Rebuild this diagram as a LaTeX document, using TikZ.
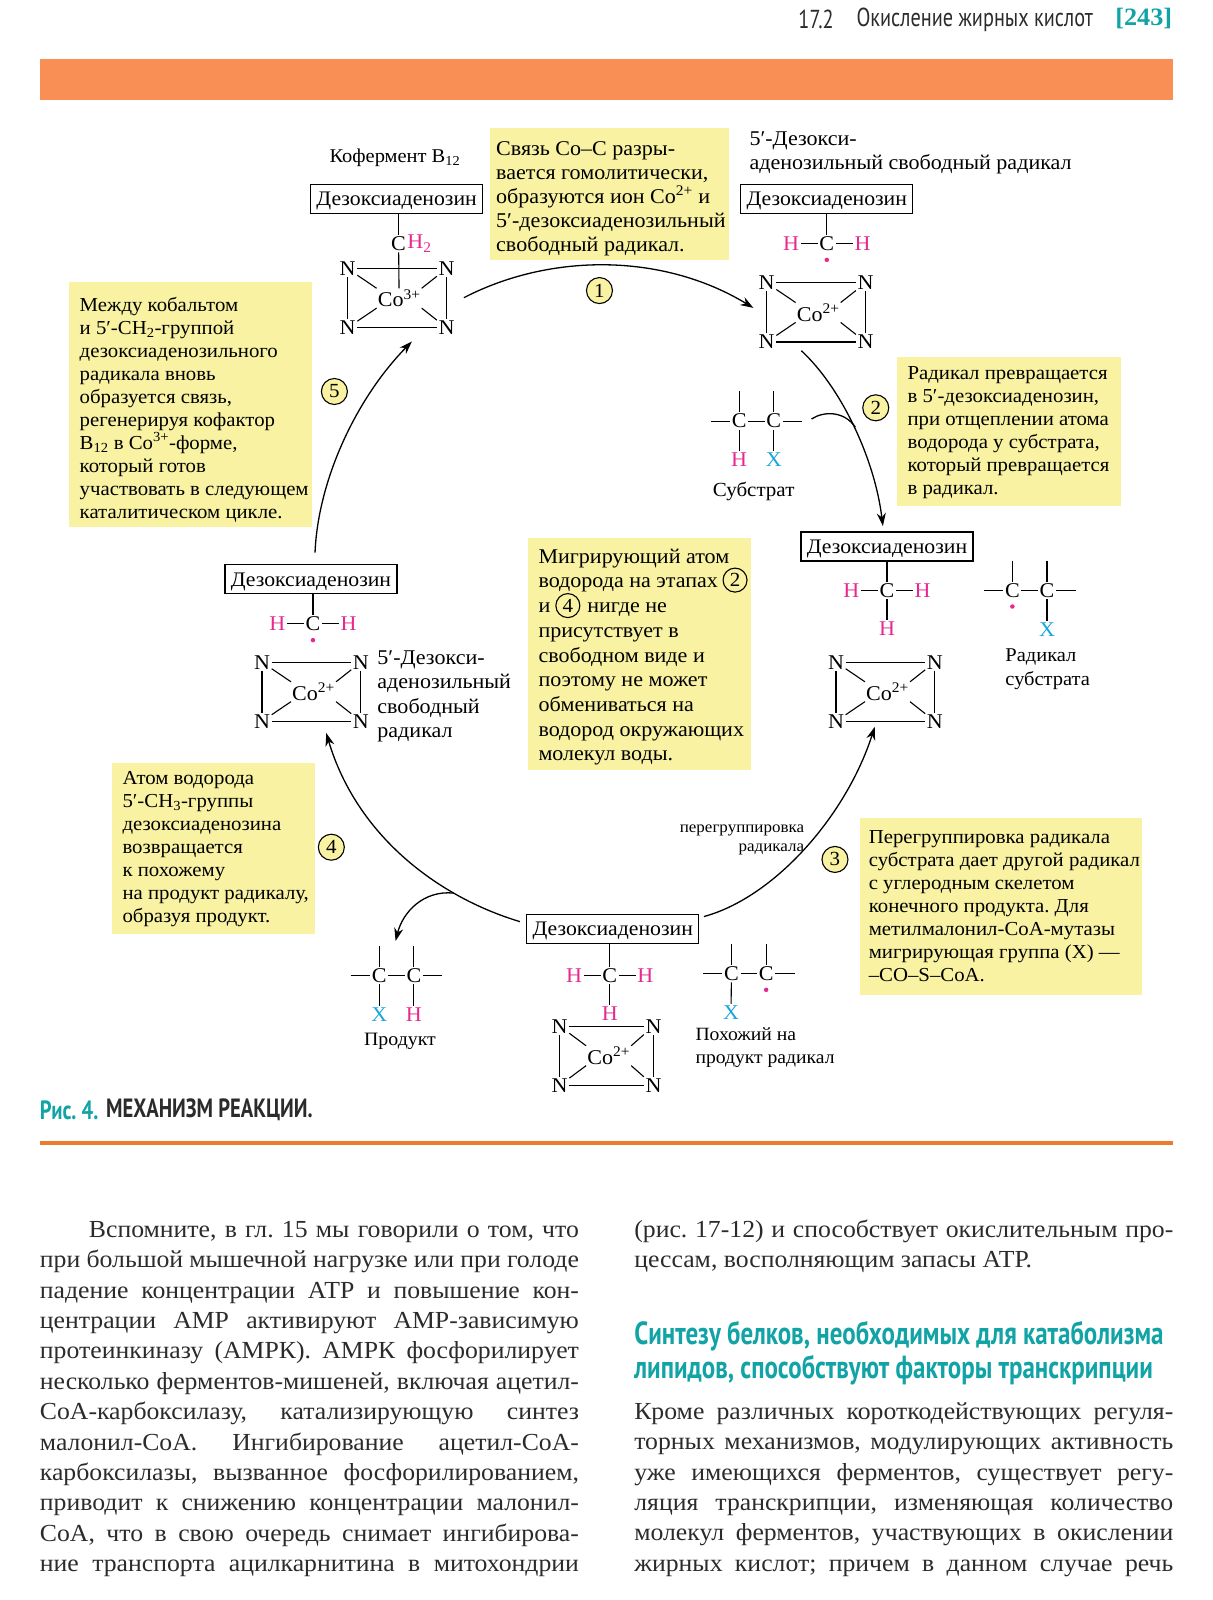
\documentclass[tikz,border=0pt]{standalone}
\usepackage{fontspec}
\usepackage{xcolor}
\setmainfont[FakeStretch=1.05]{Liberation Serif}
\newfontfamily\headfont[FakeStretch=0.78]{PT Sans}
\usetikzlibrary{positioning, arrows.meta}
\definecolor{noteyellow}{HTML}{F8F2A2}
\definecolor{atompink}{HTML}{E6298E}
\definecolor{atomblue}{HTML}{1BA6DC}
\definecolor{pageteal}{HTML}{12A3A6}
\definecolor{bandorange}{HTML}{F98F55}
\definecolor{ruleorange}{HTML}{EE7A2D}
\definecolor{inkgray}{HTML}{2B2B2B}
\frenchspacing
\tikzset{
    deoxy/.style={draw,line width=1.2pt,fill=white,minimum width=172pt,minimum height=29pt,inner sep=0pt,text height=15pt,text depth=1pt,font=\fontsize{20.7}{24}\selectfont},
    note/.style={anchor=west,align=left,inner sep=0pt,font=\fontsize{19.8}{23}\selectfont},
    notewide/.style={note,font=\fontsize{21}{24.7}\selectfont},
    stepnum/.style={circle,draw,line width=1.1pt,fill=noteyellow,minimum size=26pt,inner sep=0pt,font=\fontsize{20}{22}\selectfont},
    atom/.style={inner sep=1.5pt,font=\fontsize{21}{24}\selectfont},
    atomh/.style={atom,text=atompink},
    atomx/.style={atom,text=atomblue},
    radical/.style={circle,fill=atompink,minimum size=4.5pt,inner sep=0pt},
    bond/.style={line width=1.1pt},
    cycle/.style={line width=1.3pt,-{Stealth[length=13pt,width=9pt]}},
    branch/.style={line width=1.3pt},
    caption/.style={anchor=west,align=left,inner sep=0pt,font=\fontsize{21}{24.5}\selectfont},
    captionsmall/.style={caption,font=\fontsize{19.5}{23.5}\selectfont},
    body/.style={anchor=north west,align=justify,inner sep=0pt,text width=539pt,text=inkgray,font=\fontsize{24.5}{30.4}\selectfont},
    pics/cocore/.style 2 args={code={
        \node[inner sep=1pt,font=\fontsize{21}{24}\selectfont] (-co) at (2,0) {Co\textsuperscript{#1}};
        \node[atom] (-nw) at (-#2,-29) {N};
        \node[atom] (-ne) at (#2,-29) {N};
        \node[atom] (-sw) at (-#2,29) {N};
        \node[atom] (-se) at (#2,29) {N};
        \draw[bond] (-nw) -- (-ne) -- (-se) -- (-sw) -- (-nw);
        \draw[bond] (-nw) -- (-co.north west);
        \draw[bond] (-ne) -- (-co.north east);
        \draw[bond] (-sw) -- (-co.south west);
        \draw[bond] (-se) -- (-co.south east);
    }},
    pics/ccchain/.style={code={
        \node[atom] (-a) at (-17,0) {C};
        \node[atom] (-b) at (17,0) {C};
        \coordinate (-l) at (-45,0);
        \coordinate (-r) at (45,0);
        \coordinate (-ua) at (-17,-29);
        \coordinate (-ub) at (17,-29);
        \draw[bond] (-l) -- (-a) -- (-b) -- (-r);
        \draw[bond] (-ua) -- (-a);
        \draw[bond] (-ub) -- (-b);
    }},
}
\begin{document}
\begin{tikzpicture}[x=1.0195pt,y=-1.0195pt,node distance = 17pt]
    \useasboundingbox (0,0) rectangle (1189.8,1569.4);

    % page head
    \node[anchor=west,inner sep=0pt,text=inkgray,font=\headfont\fontsize{26}{28}\selectfont] (sect) at (783,19) {17.2};
    \node[anchor=west,inner sep=0pt,text=inkgray,font=\headfont\fontsize{26}{28}\selectfont] (title) at (840,19) {Окисление жирных кислот};
    \node[anchor=east,inner sep=0pt,text=pageteal,font=\bfseries\fontsize{25}{28}\selectfont] (page) at (1150,18) {[243]};
    \fill[bandorange] (39,58) rectangle (1150.5,98);

    % notes
    \fill[noteyellow] (481,126) rectangle (715,255);
    \fill[noteyellow] (880,350) rectangle (1100,496);
    \fill[noteyellow] (68,277) rectangle (306,517);
    \fill[noteyellow] (518,528) rectangle (737,755);
    \fill[noteyellow] (110,748) rectangle (309,916);
    \fill[noteyellow] (844,802) rectangle (1120,976);
    \node[note,font=\fontsize{21}{24}\selectfont] (note1) at (486.5,195) {Связь Co–C разры-\\вается гомолитически,\\образуются ион Co\textsuperscript{2+} и\\5′-дезоксиаденозильный\\свободный радикал.};
    \node[note] (note2) at (890,424) {Радикал превращается\\в 5′-дезоксиаденозин,\\при отщеплении атома\\водорода у субстрата,\\который превращается\\в радикал.};
    \node[note] (note5) at (78,401.5) {Между кобальтом\\и 5′-CH\textsubscript{2}-группой\\дезоксиаденозильного\\радикала вновь\\образуется связь,\\регенерируя кофактор\\B\textsubscript{12} в Co\textsuperscript{3+}-форме,\\который готов\\участвовать в следующем\\каталитическом цикле.};
    \node[notewide] (notem) at (528,644.5) {Мигрирующий атом\\водорода на этапах\\и \hspace{26pt} нигде не\\присутствует в\\свободном виде и\\поэтому не может\\обмениваться на\\водород окружающих\\молекул воды.};
    \node[note] (note4) at (120,833) {Атом водорода\\5′-CH\textsubscript{3}-группы\\дезоксиаденозина\\возвращается\\к похожему\\на продукт радикалу,\\образуя продукт.};
    \node[note] (note3) at (852,888.5) {Перегруппировка радикала\\субстрата дает другой радикал\\с углеродным скелетом\\конечного продукта. Для\\метилмалонил-CoA-мутазы\\мигрирующая группа (X) —\\–CO–S–CoA.};

    % coenzyme
    \node[deoxy] (box1) at (389,195) {Дезоксиаденозин};
    \pic (co1) at (389.5,292.5) {cocore={3+}{48.5}};
    \node[atom] (c1) [below = 21pt of box1, xshift=2pt] {C};
    \node[atomh] (h1) [right = -2pt of c1] {H\textsubscript{2}};
    \draw[bond] (box1.south -| c1) -- (c1);
    \draw[bond] (c1) -- (co1-co);
    \node[captionsmall] (lab1) at (323,155) {Кофермент B\textsubscript{12}};

    % radical
    \node[deoxy] (box2) at (811,195) {Дезоксиаденозин};
    \pic (co2) at (800.5,306.5) {cocore={2+}{48.5}};
    \node[atom] (c2) [below = 21pt of box2] {C};
    \node[atomh] (h2l) [left = of c2] {H};
    \node[atomh] (h2r) [right = of c2] {H};
    \node[radical] (d2) [below = 5pt of c2] {};
    \draw[bond] (box2) -- (c2);
    \draw[bond] (h2l) -- (c2) -- (h2r);
    \node[caption] (lab2) at (735,150) {5′-Дезокси-\\аденозильный свободный радикал};

    % substrate
    \pic (sub) at (742,413) {ccchain};
    \node[atomh] (subh) at (725,451) {H};
    \node[atomx] (subx) at (759,451) {X};
    \draw[bond] (sub-a) -- (subh);
    \draw[bond] (sub-b) -- (subx);
    \node[captionsmall,font=\fontsize{20}{23.5}\selectfont] (labsub) at (699,482) {Субстрат};

    % H taken over
    \node[deoxy] (box3) at (870,536) {Дезоксиаденозин};
    \pic (co3) at (868.5,678.5) {cocore={2+}{48.5}};
    \node[atom] (c3) [below = 20pt of box3] {C};
    \node[atomh] (h3l) [left = of c3] {H};
    \node[atomh] (h3r) [right = of c3] {H};
    \node[atomh] (h3b) [below = 21pt of c3] {H};
    \draw[bond] (box3) -- (c3);
    \draw[bond] (h3l) -- (c3) -- (h3r);
    \draw[bond] (c3) -- (h3b);
    \pic (rad) at (1010,579) {ccchain};
    \node[radical] (d3) [below = 5pt of rad-a] {};
    \node[atomx] (radx) at (1027,618) {X};
    \draw[bond] (rad-b) -- (radx);
    \node[captionsmall] (labrad) at (986,656.5) {Радикал\\субстрата};

    % rearranged
    \node[deoxy] (box5) at (601,911) {Дезоксиаденозин};
    \pic (co5) at (595,1035.5) {cocore={2+}{46}};
    \node[atom] (c5) [below = 23pt of box5, xshift=-3pt] {C};
    \node[atomh] (h5l) [left = of c5] {H};
    \node[atomh] (h5r) [right = of c5] {H};
    \node[atomh] (h5b) [below = 21pt of c5] {H};
    \draw[bond] (box5.south -| c5) -- (c5);
    \draw[bond] (h5l) -- (c5) -- (h5r);
    \draw[bond] (c5) -- (h5b);
    \pic (lik) at (734.5,955) {ccchain};
    \node[radical] (d5) [below = 5pt of lik-b] {};
    \node[atomx] (likx) at (717,993) {X};
    \draw[bond] (lik-a) -- (likx);
    \node[captionsmall,font=\fontsize{18.7}{22.5}\selectfont] (lablik) at (682,1027.5) {Похожий на\\продукт радикал};

    % product
    \pic (prod) at (389,957) {ccchain};
    \node[atomx] (prodx) at (372,995) {X};
    \node[atomh] (prodh) at (406,995) {H};
    \draw[bond] (prod-a) -- (prodx);
    \draw[bond] (prod-b) -- (prodh);
    \node[captionsmall,font=\fontsize{18.9}{23}\selectfont] (labprod) at (357,1021.5) {Продукт};

    % back to the start
    \node[deoxy] (box4) at (305,568) {Дезоксиаденозин};
    \pic (co4) at (305.5,678.5) {cocore={2+}{48.5}};
    \node[atom] (c4) [below = 21pt of box4, xshift=2pt] {C};
    \node[atomh] (h4l) [left = of c4] {H};
    \node[atomh] (h4r) [right = of c4] {H};
    \node[radical] (d4) [below = 5pt of c4] {};
    \draw[bond] (box4.south -| c4) -- (c4);
    \draw[bond] (h4l) -- (c4) -- (h4r);
    \node[caption] (lab4) at (370,683) {5′-Дезокси-\\аденозильный\\свободный\\радикал};

    \node[caption,align=right,anchor=east,font=\fontsize{16.2}{19.6}\selectfont] (lab3) at (789,824) {перегруппировка\\радикала};

    % step numbers
    \node[stepnum] (s1) at (588,285) {1};
    \node[stepnum] (s2) at (859,400) {2};
    \node[stepnum] (s3) at (819,843) {3};
    \node[stepnum] (s4) at (325,831) {4};
    \node[stepnum] (s5) at (328,384) {5};
    \node[stepnum,minimum size=24pt] (m2) at (721,569) {2};
    \node[stepnum,minimum size=24pt] (m4) at (557,594) {4};

    % cycle
    \coordinate (a1s) at (455,292);
    \coordinate (a1e) at (739,302);
    \coordinate (a2s) at (786,344);
    \coordinate (a2e) at (866,516);
    \coordinate (a3s) at (690.5,899);
    \coordinate (a3e) at (858,713);
    \coordinate (a4s) at (510,904);
    \coordinate (a4e) at (320,719);
    \coordinate (a5s) at (309,542);
    \coordinate (a5e) at (404,335);
    \draw[cycle] (a1s) .. controls (540,248) and (650,248) .. (a1e);
    \draw[cycle] (a2s) .. controls (825,380) and (858,450) .. (a2e);
    \draw[cycle] (a3s) .. controls (760,880) and (830,800) .. (a3e);
    \draw[cycle] (a4s) .. controls (430,880) and (350,820) .. (a4e);
    \draw[cycle] (a5s) .. controls (312,470) and (350,390) .. (a5e);

    \coordinate (b2s) at (796,411);
    \coordinate (b2e) at (839,419);
    \coordinate (b4s) at (445,876);
    \coordinate (b4e) at (388,923);
    \draw[branch] (b2s) .. controls (808,403) and (828,403) .. (b2e);
    \draw[cycle] (b4s) .. controls (415,873) and (395,895) .. (b4e);

    % caption and rule
    \node[anchor=west,inner sep=0pt,text=pageteal,font=\headfont\bfseries\fontsize{26.4}{28}\selectfont] (figno) at (39,1089) {Рис. 4.};
    \node[anchor=west,inner sep=0pt,text=inkgray,font=\headfont\bfseries\fontsize{26.4}{28}\selectfont] (figname) at (104,1089) {МЕХАНИЗМ РЕАКЦИИ.};
    \fill[ruleorange] (39,1119.5) rectangle (1150.5,1123.5);

    % running text
    \node[body] (left) at (39,1197.5) {\hspace*{49pt}Вспомните, в гл. 15 мы говорили о том, что\linebreak
        при большой мышечной нагрузке или при голоде\linebreak
        падение концентрации АТР и повышение кон-\linebreak
        центрации АМР активируют АМР-зависимую\linebreak
        протеинкиназу (АМРК). АМРК фосфорилирует\linebreak
        несколько ферментов-мишеней, включая ацетил-\linebreak
        СоА-карбоксилазу, катализирующую синтез\linebreak
        малонил-СоА. Ингибирование ацетил-СоА-\linebreak
        карбоксилазы, вызванное фосфорилированием,\linebreak
        приводит к снижению концентрации малонил-\linebreak
        СоА, что в свою очередь снимает ингибирова-\linebreak
        ние транспорта ацилкарнитина в митохондрии\linebreak};
    \node[body] (right1) at (622,1196.5) {(рис. 17-12) и способствует окислительным про-\linebreak
        цессам, восполняющим запасы АТР.};
    \node[anchor=north west,align=left,inner sep=0pt,text=pageteal,font=\headfont\bfseries\fontsize{32}{34}\selectfont] (head) at (622,1296) {Синтезу белков, необходимых для катаболизма\\липидов, способствуют факторы транскрипции};
    \node[body] (right2) at (622,1375.5) {Кроме различных короткодействующих регуля-\linebreak
        торных механизмов, модулирующих активность\linebreak
        уже имеющихся ферментов, существует регу-\linebreak
        ляция транскрипции, изменяющая количество\linebreak
        молекул ферментов, участвующих в окислении\linebreak
        жирных кислот; причем в данном случае речь\linebreak};
\end{tikzpicture}
\end{document}
